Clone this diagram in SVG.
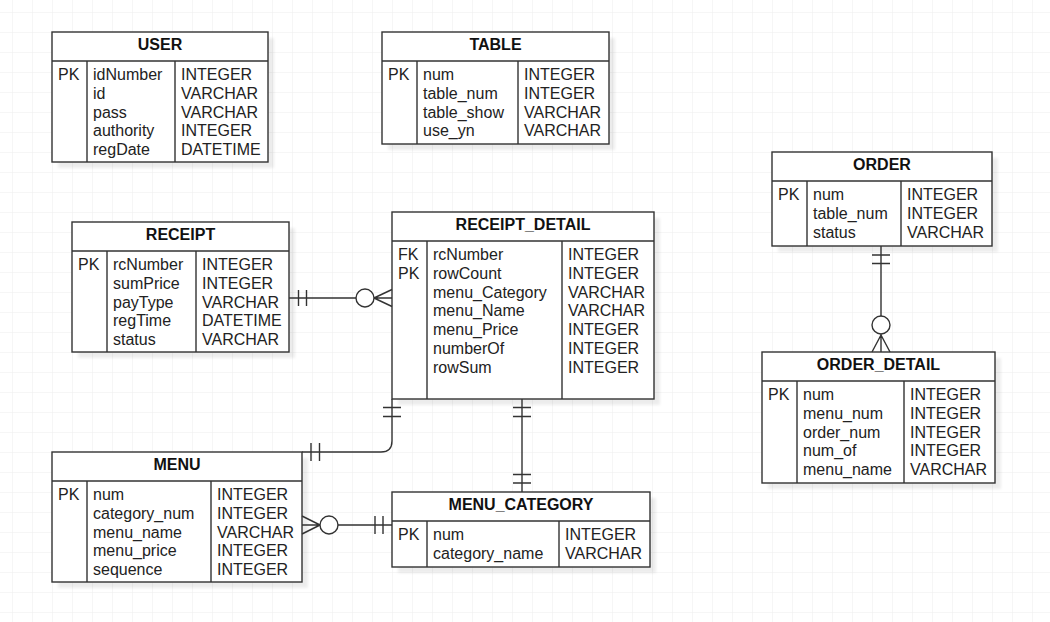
<svg xmlns="http://www.w3.org/2000/svg" width="1050" height="622" viewBox="0 0 1050 622">
<defs>
<pattern id="grid" x="12" y="12" width="20" height="20" patternUnits="userSpaceOnUse">
<path d="M0 0 H20 M0 0 V20" fill="none" stroke="#ededed" stroke-width="1"/>
</pattern>
<filter id="sh" x="-10%" y="-10%" width="130%" height="130%">
<feGaussianBlur stdDeviation="1.5"/>
</filter>
<style>
.box{fill:#fff;stroke:#333;stroke-width:1.4}
.ln{stroke:#333;stroke-width:1.4;fill:none}
.shadow{fill:#000;opacity:0.07;filter:url(#sh)}
.t{font-family:"Liberation Sans",Arial,sans-serif;font-size:16px;fill:#222}
.h{font-family:"Liberation Sans",Arial,sans-serif;font-size:16px;font-weight:bold;fill:#111;text-anchor:middle}
.c{fill:#fff;stroke:#333;stroke-width:1.4}
</style>
</defs>
<rect x="0" y="0" width="1050" height="622" fill="#fff"/>
<rect x="0" y="0" width="1050" height="622" fill="url(#grid)"/>

<!-- USER -->
<g id="user">
<rect class="shadow" x="58" y="38" width="216" height="130"/>
<rect class="box" x="52" y="32" width="216" height="130"/>
<path class="ln" d="M52 61 H268 M87 61 V162 M175 61 V162"/>
<text class="h" x="160" y="50">USER</text>
<text class="t" x="58" y="80">PK</text>
<text class="t" x="93" y="80">idNumber</text><text class="t" x="93" y="98.7">id</text><text class="t" x="93" y="117.5">pass</text><text class="t" x="93" y="136.2">authority</text><text class="t" x="93" y="155">regDate</text>
<text class="t" x="181" y="80">INTEGER</text><text class="t" x="181" y="98.7">VARCHAR</text><text class="t" x="181" y="117.5">VARCHAR</text><text class="t" x="181" y="136.2">INTEGER</text><text class="t" x="181" y="155">DATETIME</text>
</g>

<!-- TABLE -->
<g id="table">
<rect class="shadow" x="388" y="38" width="227" height="112"/>
<rect class="box" x="382" y="32" width="227" height="112"/>
<path class="ln" d="M382 61 H609 M417 61 V144 M518 61 V144"/>
<text class="h" x="495.5" y="50">TABLE</text>
<text class="t" x="388" y="80">PK</text>
<text class="t" x="423" y="80">num</text><text class="t" x="423" y="98.7">table_num</text><text class="t" x="423" y="117.5">table_show</text><text class="t" x="423" y="136.2">use_yn</text>
<text class="t" x="524" y="80">INTEGER</text><text class="t" x="524" y="98.7">INTEGER</text><text class="t" x="524" y="117.5">VARCHAR</text><text class="t" x="524" y="136.2">VARCHAR</text>
</g>

<!-- ORDER -->
<g id="order">
<rect class="shadow" x="778" y="158" width="220" height="94"/>
<rect class="box" x="772" y="152" width="220" height="94"/>
<path class="ln" d="M772 181 H992 M807 181 V246 M901 181 V246"/>
<text class="h" x="882" y="170">ORDER</text>
<text class="t" x="778" y="200">PK</text>
<text class="t" x="813" y="200">num</text><text class="t" x="813" y="218.7">table_num</text><text class="t" x="813" y="237.5">status</text>
<text class="t" x="907" y="200">INTEGER</text><text class="t" x="907" y="218.7">INTEGER</text><text class="t" x="907" y="237.5">VARCHAR</text>
</g>

<!-- ORDER_DETAIL -->
<g id="order_detail">
<rect class="shadow" x="768" y="358" width="233" height="131"/>
<rect class="box" x="762" y="352" width="233" height="131"/>
<path class="ln" d="M762 381 H995 M797 381 V483 M904 381 V483"/>
<text class="h" x="878.5" y="370">ORDER_DETAIL</text>
<text class="t" x="768" y="400">PK</text>
<text class="t" x="803" y="400">num</text><text class="t" x="803" y="418.7">menu_num</text><text class="t" x="803" y="437.5">order_num</text><text class="t" x="803" y="456.2">num_of</text><text class="t" x="803" y="475">menu_name</text>
<text class="t" x="910" y="400">INTEGER</text><text class="t" x="910" y="418.7">INTEGER</text><text class="t" x="910" y="437.5">INTEGER</text><text class="t" x="910" y="456.2">INTEGER</text><text class="t" x="910" y="475">VARCHAR</text>
</g>

<!-- RECEIPT -->
<g id="receipt">
<rect class="shadow" x="78" y="228" width="217" height="130"/>
<rect class="box" x="72" y="222" width="217" height="130"/>
<path class="ln" d="M72 251 H289 M107 251 V352 M196 251 V352"/>
<text class="h" x="180.5" y="240">RECEIPT</text>
<text class="t" x="78" y="270">PK</text>
<text class="t" x="113" y="270">rcNumber</text><text class="t" x="113" y="288.7">sumPrice</text><text class="t" x="113" y="307.5">payType</text><text class="t" x="113" y="326.2">regTime</text><text class="t" x="113" y="345">status</text>
<text class="t" x="202" y="270">INTEGER</text><text class="t" x="202" y="288.7">INTEGER</text><text class="t" x="202" y="307.5">VARCHAR</text><text class="t" x="202" y="326.2">DATETIME</text><text class="t" x="202" y="345">VARCHAR</text>
</g>

<!-- RECEIPT_DETAIL -->
<g id="receipt_detail">
<rect class="shadow" x="398" y="218" width="262" height="187"/>
<rect class="box" x="392" y="212" width="262" height="187"/>
<path class="ln" d="M392 241 H654 M427 241 V399 M562 241 V399"/>
<text class="h" x="523" y="230">RECEIPT_DETAIL</text>
<text class="t" x="398" y="260">FK</text><text class="t" x="398" y="278.7">PK</text>
<text class="t" x="433" y="260">rcNumber</text><text class="t" x="433" y="278.7">rowCount</text><text class="t" x="433" y="297.5">menu_Category</text><text class="t" x="433" y="316.2">menu_Name</text><text class="t" x="433" y="335">menu_Price</text><text class="t" x="433" y="353.7">numberOf</text><text class="t" x="433" y="372.5">rowSum</text>
<text class="t" x="568" y="260">INTEGER</text><text class="t" x="568" y="278.7">INTEGER</text><text class="t" x="568" y="297.5">VARCHAR</text><text class="t" x="568" y="316.2">VARCHAR</text><text class="t" x="568" y="335">INTEGER</text><text class="t" x="568" y="353.7">INTEGER</text><text class="t" x="568" y="372.5">INTEGER</text>
</g>

<!-- MENU -->
<g id="menu">
<rect class="shadow" x="58" y="458" width="250" height="130"/>
<rect class="box" x="52" y="452" width="250" height="130"/>
<path class="ln" d="M52 481 H302 M87 481 V582 M211 481 V582"/>
<text class="h" x="177" y="470">MENU</text>
<text class="t" x="58" y="500">PK</text>
<text class="t" x="93" y="500">num</text><text class="t" x="93" y="518.7">category_num</text><text class="t" x="93" y="537.5">menu_name</text><text class="t" x="93" y="556.2">menu_price</text><text class="t" x="93" y="575">sequence</text>
<text class="t" x="217" y="500">INTEGER</text><text class="t" x="217" y="518.7">INTEGER</text><text class="t" x="217" y="537.5">VARCHAR</text><text class="t" x="217" y="556.2">INTEGER</text><text class="t" x="217" y="575">INTEGER</text>
</g>

<!-- MENU_CATEGORY -->
<g id="menu_category">
<rect class="shadow" x="398" y="498" width="258" height="75"/>
<rect class="box" x="392" y="492" width="258" height="75"/>
<path class="ln" d="M392 521 H650 M427 521 V567 M559 521 V567"/>
<text class="h" x="521" y="510">MENU_CATEGORY</text>
<text class="t" x="398" y="540">PK</text>
<text class="t" x="433" y="540">num</text><text class="t" x="433" y="558.7">category_name</text>
<text class="t" x="565" y="540">INTEGER</text><text class="t" x="565" y="558.7">VARCHAR</text>
</g>

<!-- connectors -->
<g id="connectors">
<!-- RECEIPT -> RECEIPT_DETAIL -->
<path class="ln" d="M289 298 H392 M298.5 290 V306 M306.5 290 V306 M374 298 L392 289.5 M374 298 L392 306.5"/>
<circle class="c" cx="365" cy="298" r="9"/>
<!-- MENU -> RECEIPT_DETAIL -->
<path class="ln" d="M302 452 H381 Q392 452 392 441 V399 M311 443 V461 M319.5 443 V461 M383 407.5 H401 M383 416.5 H401"/>
<!-- RECEIPT_DETAIL -> MENU_CATEGORY -->
<path class="ln" d="M522 399 V492 M513 407.5 H531 M513 416.5 H531 M513 474.5 H531 M513 483 H531"/>
<!-- MENU -> MENU_CATEGORY -->
<path class="ln" d="M302 525 H392 M302 516 L320 525 M302 534 L320 525 M375 516 V534 M383 516 V534"/>
<circle class="c" cx="329" cy="525" r="9"/>
<!-- ORDER -> ORDER_DETAIL -->
<path class="ln" d="M881 246 V352 M872 255 H890 M872 263.5 H890 M881 335 L872 352 M881 335 L890 352"/>
<circle class="c" cx="881" cy="325" r="9"/>
</g>
</svg>
